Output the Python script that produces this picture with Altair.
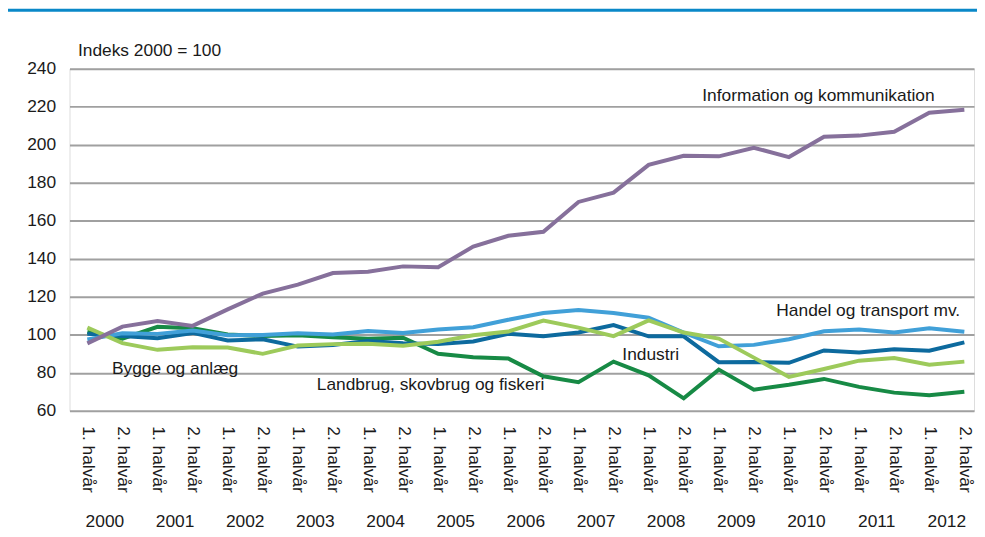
import altair as alt
import pandas as pd

# ---- data ----
years = [str(y) for y in range(2000, 2013)]
halves = ["1. halvår", "2. halvår"]
period_index = list(range(26))

series_names = [
    "Landbrug, skovbrug og fiskeri",
    "Industri",
    "Handel og transport mv.",
    "Bygge og anlæg",
    "Information og kommunikation",
]
landbrug = [101.5, 98.0, 104.2, 103.5, 100.2, 99.4, 99.8, 98.7, 97.9, 98.5, 90.0, 88.2, 87.5,
            78.2, 75.1, 85.9, 78.7, 66.6, 81.7, 71.1, 73.7, 76.8, 72.6, 69.6, 68.2, 70.0]
industri = [100.5, 99.4, 98.2, 101.0, 97.0, 97.7, 93.8, 94.6, 96.8, 95.6, 95.1, 96.5, 100.5,
            99.3, 101.2, 105.1, 99.2, 99.2, 85.6, 85.7, 85.3, 91.8, 90.7, 92.4, 91.6, 96.0]
handel = [97.5, 100.8, 100.5, 102.3, 99.8, 99.9, 100.8, 100.2, 102.0, 101.0, 102.8, 104.0, 107.9,
          111.5, 113.0, 111.5, 109.0, 101.2, 94.0, 94.7, 97.7, 101.9, 102.8, 101.2, 103.4, 101.6]
bygge = [103.8, 95.6, 92.1, 93.5, 93.3, 90.0, 94.4, 95.1, 95.3, 94.3, 96.4, 99.8, 101.7,
         107.5, 103.8, 99.3, 107.6, 101.2, 98.0, 88.0, 77.8, 82.0, 86.4, 87.8, 84.3, 85.9]
information = [95.5, 104.3, 107.3, 104.7, 113.4, 121.7, 126.4, 132.5, 133.2, 136.0, 135.6, 146.4, 152.1,
               154.2, 169.9, 174.8, 189.4, 194.2, 193.9, 198.4, 193.5, 204.2, 204.8, 206.8, 216.8, 218.4]
series_values = [landbrug, industri, handel, bygge, information]
series_colors = ["#178a45", "#0d6a9e", "#41a0d8", "#9dca5b", "#86709b"]

# series label anchors (left edge, in data units)
label_x = [6.54, 15.25, 19.64, 0.70, 17.53]
label_y = [73.7, 89.4, 112.5, 82.0, 225.5]

# ---- tables ----
rows = []
for k, (name, vals) in enumerate(zip(series_names, series_values)):
    for i, v in zip(period_index, vals):
        rows.append({"serie": name, "i": i, "v": v, "k": k})
df = pd.DataFrame(rows)

df_years = pd.DataFrame({"year": years, "x": [2 * j + 0.5 for j in range(len(years))]})
df_labels = pd.DataFrame({"text": series_names, "x": label_x, "y": label_y})

FONT = "Liberation Sans"
FS = 17.5
TXT = "#1a1a1a"

x_scale = alt.Scale(domain=[-0.509, 25.276], nice=False, zero=False)
y_scale = alt.Scale(domain=[60, 240], nice=False, zero=False)

label_expr = f"datum.value % 2 == 0 ? '{halves[0]}' : '{halves[1]}'"

x_axis = alt.Axis(values=period_index, labelExpr=label_expr, labelAngle=90,
                  labelAlign="left", labelBaseline="middle", labelPadding=15,
                  ticks=False, domain=False, grid=False, title=None,
                  labelFontSize=FS, labelColor=TXT, labelFont=FONT,
                  labelFlush=False, labelOverlap=False, labelLimit=200)
y_axis = alt.Axis(values=list(range(60, 241, 20)), grid=True, gridColor="#a0a0a0",
                  gridWidth=2, domain=False, ticks=False, labelPadding=14,
                  labelFontSize=FS, labelColor=TXT, labelFont=FONT, labelOverlap=False,
                  labelFlush=False,
                  title="Indeks 2000 = 100", titleAngle=0, titleX=8, titleY=-18,
                  titleAlign="left", titleBaseline="middle", titleFontWeight="normal",
                  titleFontSize=FS, titleFont=FONT, titleColor=TXT)

lines = alt.Chart(df).mark_line(strokeWidth=4).encode(
    x=alt.X("i:Q", scale=x_scale, axis=x_axis),
    y=alt.Y("v:Q", scale=y_scale, axis=y_axis),
    color=alt.Color("serie:N", scale=alt.Scale(domain=series_names, range=series_colors), legend=None),
    detail="k:O",
)

year_text = alt.Chart(df_years).mark_text(fontSize=FS, font=FONT, color=TXT,
                                          align="center", baseline="middle").encode(
    x=alt.X("x:Q", scale=x_scale, axis=x_axis), y=alt.value(457), text="year:N")

series_text = alt.Chart(df_labels).mark_text(fontSize=FS, font=FONT, color=TXT,
                                             align="left", baseline="middle").encode(
    x=alt.X("x:Q", scale=x_scale, axis=x_axis),
    y=alt.Y("y:Q", scale=y_scale, axis=y_axis), text="text:N")

top_rule = alt.Chart(pd.DataFrame({"a": [0]})).mark_rule(color="#0a88c8", strokeWidth=3).encode(
    x=alt.value(-68), x2=alt.value(915), y=alt.value(-59))

chart = alt.layer(lines, series_text, year_text, top_rule).properties(
    width=912, height=345,
    autosize=alt.AutoSizeParams(type="none"),
    padding={"left": 62, "top": 59, "right": 3, "bottom": 125},
).configure_view(stroke=None).configure(font=FONT)

chart.save("out.html", embed_options={"renderer": "svg", "actions": False})
